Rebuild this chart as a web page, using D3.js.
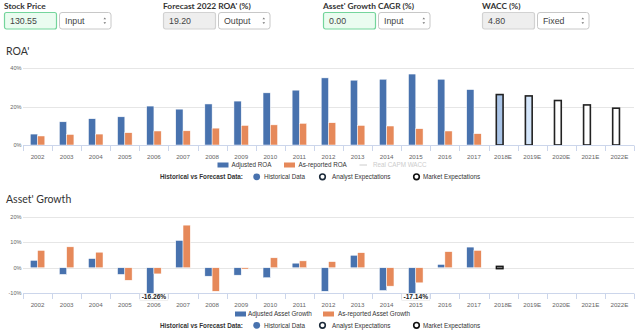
<!DOCTYPE html>
<html><head><meta charset="utf-8">
<script src="https://cdn.jsdelivr.net/npm/d3@7"></script>
<style>
html,body{margin:0;padding:0;background:#fff;}
svg{display:block;}
</style></head>
<body>
<svg id="c" width="640" height="330"></svg>
<script>
const categories = ['2002','2003','2004','2005','2006','2007','2008','2009','2010','2011','2012','2013','2014','2015','2016','2017','2018E','2019E','2020E','2021E','2022E'];
const histYears = categories.slice(0,16);
const forecastYears = categories.slice(16);
const adjROA = [5.7,12.1,13.7,14.7,20.3,18.7,21.4,22.9,27.2,28.6,35.0,33.8,34.3,37.0,34.3,28.9];
const repROA = [4.7,5.5,5.7,6.4,7.3,7.4,8.8,10.2,10.5,11.3,11.6,10.2,9.9,8.5,7.3,5.9];
const forecastROA = [26.3,25.6,23.2,20.9,19.2];
const forecastFills = ['#a9c4e7','#d4e6fb','#ffffff','#ffffff','#ffffff'];
const adjGrowth = [2.9,-2.6,3.6,-2.6,-16.26,10.7,-3.3,-2.9,-3.9,1.8,-9.2,4.9,-8.9,-17.14,1.3,8.1];
const repGrowth = [6.8,8.2,6.1,-4.9,-2.4,16.7,-9.2,-0.5,3.9,2.7,2.4,5.9,-7.2,-5.9,6.3,6.8];
const forecastGrowthYears = ['2018E'];
const forecastGrowth = [0];
const roaTicks = [0,20,40];
const growthTicks = [-10,0,10,20];
const controls = [
  {label:'Stock Price', value:'130.55', mode:'Input', kind:'green'},
  {label:"Forecast 2022 ROA' (%)", value:'19.20', mode:'Output', kind:'grey'},
  {label:"Asset' Growth CAGR (%)", value:'0.00', mode:'Input', kind:'green'},
  {label:'WACC (%)', value:'4.80', mode:'Fixed', kind:'grey'}
];

const BLUE = '#4872ae', ORANGE = '#e6895a';
const svg = d3.select('#c');
const FONT = '"Liberation Sans", Arial, sans-serif';
const LFS = 6.3; // legend font size
const TFS = 6.2; // x tick font size

// ---- controls
const ctrlX = [4,163,323,482];
controls.forEach((c,i)=>{
  const g = svg.append('g').attr('transform',`translate(${ctrlX[i]},0)`);
  g.append('text').attr('x',0).attr('y',9).text(c.label)
    .attr('font-family','Lato, "Open Sans", sans-serif').attr('font-weight','bold')
    .attr('font-size',8.4).attr('fill','#333');
  g.append('rect').attr('x',0.5).attr('y',12.5).attr('width',52).attr('height',16.5).attr('rx',2)
    .attr('fill', c.kind==='green' ? '#eafcf0' : '#eeeeee')
    .attr('stroke', c.kind==='green' ? '#74d59c' : '#d2d2d2').attr('stroke-width',1.2);
  g.append('text').attr('x',6).attr('y',24).text(c.value)
    .attr('font-family',FONT).attr('font-size',8.8).attr('fill','#444');
  g.append('rect').attr('x',55.5).attr('y',12.5).attr('width',51.5).attr('height',16.5).attr('rx',2.5)
    .attr('fill','#fff').attr('stroke','#c8c8c8');
  g.append('text').attr('x',61).attr('y',24).text(c.mode)
    .attr('font-family',FONT).attr('font-size',8.8).attr('fill','#444');
  g.append('path').attr('d',`M${99.5},19.3 l1.3,-1.8 l1.3,1.8 Z M${99.5},22.2 l1.3,1.8 l1.3,-1.8 Z`).attr('fill','#777');
});

// ---- shared x scale
const x = d3.scaleBand().domain(categories).range([23,634]).paddingInner(0).paddingOuter(0);
const x1 = d3.scaleBand().domain(['adj','rep']).range([0,x.bandwidth()]).paddingOuter(1).paddingInner(0);

function drawXAxis(yAxis, labelY){
  const g = svg.append('g');
  g.append('line').attr('x1',23).attr('x2',634).attr('y1',yAxis).attr('y2',yAxis).attr('stroke','#ccd6eb');
  const bounds = categories.map(c=>x(c)).concat([x(categories[categories.length-1])+x.bandwidth()]);
  g.selectAll('line.t').data(bounds).enter().append('line')
    .attr('x1',d=>Math.round(d)+0.5).attr('x2',d=>Math.round(d)+0.5).attr('y1',yAxis).attr('y2',yAxis+5.5).attr('stroke','#ccd6eb');
  g.selectAll('text').data(categories).enter().append('text')
    .attr('x',d=>x(d)+x.bandwidth()/2).attr('y',labelY).attr('text-anchor','middle')
    .attr('font-family',FONT).attr('font-size',TFS).attr('fill','#666').text(d=>d);
}

function drawYGrid(y, ticks){
  const g = svg.append('g');
  g.selectAll('line').data(ticks).enter().append('line')
    .attr('x1',23).attr('x2',634).attr('y1',d=>Math.round(y(d))+0.5).attr('y2',d=>Math.round(y(d))+0.5)
    .attr('stroke','#e6e6e6');
  g.selectAll('text').data(ticks).enter().append('text')
    .attr('x',21.5).attr('y',d=>y(d)+2).attr('text-anchor','end')
    .attr('font-family',FONT).attr('font-size',5.6).attr('fill','#666').text(d=>d+'%');
}

function drawHistForecastLegend(yRow){
  const g = svg.append('g').attr('font-family',FONT).attr('font-size',LFS);
  g.append('text').attr('x',160).attr('y',yRow+2.2).attr('font-weight','bold').attr('fill','#333')
    .text('Historical vs Forecast Data:');
  g.append('circle').attr('cx',256.7).attr('cy',yRow).attr('r',3.4).attr('fill',BLUE);
  g.append('text').attr('x',264).attr('y',yRow+2.2).attr('fill','#333').text('Historical Data');
  g.append('circle').attr('cx',322.5).attr('cy',yRow).attr('r',2.8).attr('fill','#fff').attr('stroke','#1c2a3a').attr('stroke-width',1.6);
  g.append('text').attr('x',332).attr('y',yRow+2.2).attr('fill','#333').text('Analyst Expectations');
  g.append('circle').attr('cx',416.5).attr('cy',yRow).attr('r',2.8).attr('fill','#fff').attr('stroke','#111').attr('stroke-width',1.6);
  g.append('text').attr('x',423).attr('y',yRow+2.2).attr('fill','#333').text('Market Expectations');
}

// ---- ROA chart
svg.append('text').attr('x',6).attr('y',55).text("ROA'")
  .attr('font-family','Lato, "Open Sans", sans-serif').attr('font-size',10.5).attr('fill','#333');
const yR = d3.scaleLinear().domain([0,40]).range([145,68.3]);
drawYGrid(yR, roaTicks);

svg.append('g').selectAll('rect').data(histYears).enter().append('rect')
  .attr('x',(d)=>x(d)+x1('adj')).attr('width',x1.bandwidth())
  .attr('y',(d,i)=>yR(adjROA[i])).attr('height',(d,i)=>yR(0)-yR(adjROA[i]))
  .attr('fill',BLUE).attr('stroke','#fff').attr('stroke-width',0.5);
svg.append('g').selectAll('rect').data(histYears).enter().append('rect')
  .attr('x',(d)=>x(d)+x1('rep')).attr('width',x1.bandwidth())
  .attr('y',(d,i)=>yR(repROA[i])).attr('height',(d,i)=>yR(0)-yR(repROA[i]))
  .attr('fill',ORANGE).attr('stroke','#fff').attr('stroke-width',0.5);
svg.append('g').selectAll('rect').data(forecastYears).enter().append('rect')
  .attr('x',(d)=>x(d)+x1('adj')+0.5).attr('width',x1.bandwidth()-0.5)
  .attr('y',(d,i)=>yR(forecastROA[i])).attr('height',(d,i)=>yR(0)-yR(forecastROA[i]))
  .attr('fill',(d,i)=>forecastFills[i]).attr('stroke','#222').attr('stroke-width',1.6);
drawXAxis(145.5, 159);

// ROA legend row 1
(function(){
  const g = svg.append('g').attr('font-family',FONT).attr('font-size',LFS);
  g.append('rect').attr('x',217.5).attr('y',162.5).attr('width',11).attr('height',5).attr('fill',BLUE);
  g.append('text').attr('x',231.5).attr('y',167.3).attr('fill','#333').text('Adjusted ROA');
  g.append('rect').attr('x',284).attr('y',162.5).attr('width',11).attr('height',5).attr('fill',ORANGE);
  g.append('text').attr('x',298.5).attr('y',167.3).attr('fill','#333').text('As-reported ROA');
  g.append('line').attr('x1',359.5).attr('x2',367).attr('y1',165).attr('y2',165).attr('stroke','#cccccc').attr('stroke-width',1);
  g.append('text').attr('x',373).attr('y',167.3).attr('fill','#cccccc').text('Real CAPM WACC');
})();
drawHistForecastLegend(176.8);

// ---- Growth chart
svg.append('text').attr('x',6).attr('y',203).text("Asset' Growth")
  .attr('font-family','Lato, "Open Sans", sans-serif').attr('font-size',10.5).attr('fill','#333');
const yG = d3.scaleLinear().domain([-10,20]).range([293.3,216.7]);
drawYGrid(yG, growthTicks);
const clamp = v => Math.max(-10, Math.min(20, v));
const gb = svg.append('g');
gb.selectAll('rect.a').data(histYears).enter().append('rect')
  .attr('x',(d)=>x(d)+x1('adj')).attr('width',x1.bandwidth())
  .attr('y',(d,i)=>yG(Math.max(0,clamp(adjGrowth[i]))))
  .attr('height',(d,i)=>Math.abs(yG(clamp(adjGrowth[i]))-yG(0)))
  .attr('fill',BLUE).attr('stroke','#fff').attr('stroke-width',0.5);
gb.selectAll('rect.r').data(histYears).enter().append('rect')
  .attr('x',(d)=>x(d)+x1('rep')).attr('width',x1.bandwidth())
  .attr('y',(d,i)=>yG(Math.max(0,clamp(repGrowth[i]))))
  .attr('height',(d,i)=>Math.abs(yG(clamp(repGrowth[i]))-yG(0)))
  .attr('fill',ORANGE).attr('stroke','#fff').attr('stroke-width',0.5);
gb.selectAll('rect.f').data(forecastGrowthYears).enter().append('rect')
  .attr('x',(d)=>x(d)+x1('adj')+0.5).attr('width',x1.bandwidth()-0.5)
  .attr('y',(d,i)=>yG(forecastGrowth[i])-1.5).attr('height',2.5)
  .attr('fill','#777').attr('stroke','#111').attr('stroke-width',1.3);
drawXAxis(293.5, 306.8);

// clipped-value labels
const clippedIdx = adjGrowth.map((v,i)=>v<-10?i:-1).filter(i=>i>=0);
clippedIdx.forEach(i=>{
  const cx = x(histYears[i])+x.bandwidth()/2;
  const lbl = adjGrowth[i].toFixed(2)+'%';
  const g = svg.append('g');
  g.append('rect').attr('x',cx-14).attr('y',293.8).attr('width',28).attr('height',6.6)
    .attr('fill','#fff').attr('stroke','#e2e2e2').attr('stroke-width',0.5);
  g.append('text').attr('x',cx).attr('y',299.3).attr('text-anchor','middle')
    .attr('font-family',FONT).attr('font-weight','bold').attr('font-size',6.6).attr('fill','#222').text(lbl);
});

// Growth legend
(function(){
  const g = svg.append('g').attr('font-family',FONT).attr('font-size',LFS);
  g.append('rect').attr('x',235).attr('y',311.5).attr('width',11).attr('height',5).attr('fill',BLUE);
  g.append('text').attr('x',248).attr('y',316.3).attr('fill','#333').text('Adjusted Asset Growth');
  g.append('rect').attr('x',323).attr('y',311.5).attr('width',11).attr('height',5).attr('fill',ORANGE);
  g.append('text').attr('x',338).attr('y',316.3).attr('fill','#333').text('As-reported Asset Growth');
})();
drawHistForecastLegend(325.3);
</script>
</body></html>
